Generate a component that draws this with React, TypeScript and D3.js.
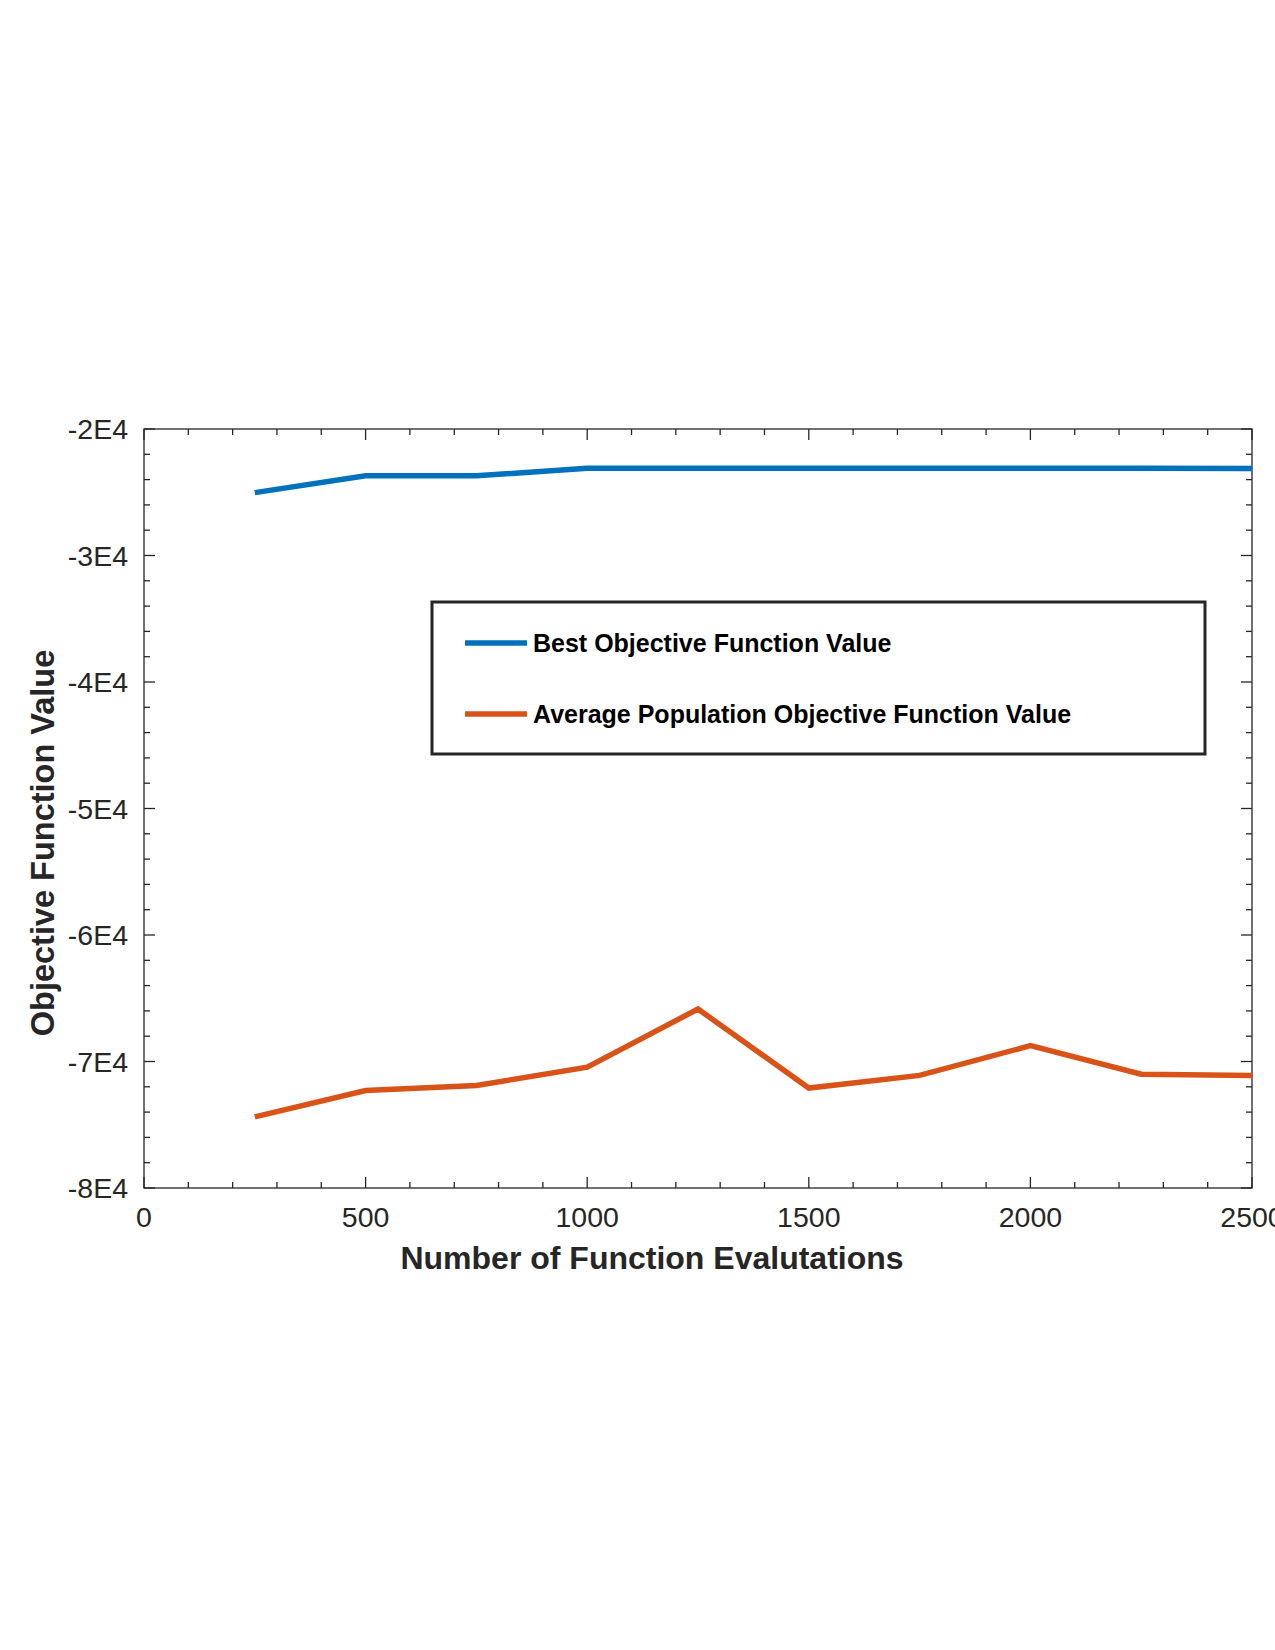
import * as d3 from "d3"

const evaluations = [250, 500, 750, 1000, 1250, 1500, 1750, 2000, 2250, 2500]
const bestValues = [-25030, -23690, -23700, -23100, -23100, -23100, -23100, -23100, -23100, -23120]
const avgValues = [-74380, -72300, -71900, -70450, -65850, -72100, -71100, -68750, -71000, -71100]

const xTicks = [0, 500, 1000, 1500, 2000, 2500]
const yTicks = [-80000, -70000, -60000, -50000, -40000, -30000, -20000]
const yTickLabels = ["-8E4", "-7E4", "-6E4", "-5E4", "-4E4", "-3E4", "-2E4"]
const seriesNames = ["Best Objective Function Value", "Average Population Objective Function Value"]
const seriesColors = ["#0072BD", "#D95319"]

const width = 1275
const height = 1650
const margin = { left: 144, right: 23, top: 429, bottom: 462 }
const axisColor = "#262626"
const font = "'Liberation Sans', Arial, Helvetica, sans-serif"

export default function App() {
  const innerW = width - margin.left - margin.right
  const innerH = height - margin.top - margin.bottom

  const x = d3.scaleLinear().domain([0, 2500]).range([0, innerW])
  const y = d3.scaleLinear().domain([-80000, -20000]).range([innerH, 0])

  const xMinor = d3.range(0, 2501, 100).filter(v => v % 500 !== 0)
  const yMinor = d3.range(-80000, -19999, 2000).filter(v => v % 10000 !== 0)

  const line = d3.line<number>()
    .x((_, i) => x(evaluations[i]))
    .y(d => y(d))

  const major = 11
  const minor = 6

  return (
    <svg width={width} height={height} style={{ position: "absolute", left: 0, top: 0, background: "#fff" }}>
      <g transform={`translate(${margin.left},${margin.top})`}>
        <defs>
          <clipPath id="plot-clip">
            <rect x={0} y={0} width={innerW} height={innerH} />
          </clipPath>
        </defs>

        {/* box */}
        <rect x={0} y={0} width={innerW} height={innerH} fill="none" stroke={axisColor} strokeWidth={1.3} />

        {/* x ticks, bottom and top */}
        {xTicks.map(t => (
          <g key={"xt" + t}>
            <line x1={x(t)} x2={x(t)} y1={innerH} y2={innerH - major} stroke={axisColor} strokeWidth={1.3} />
            <line x1={x(t)} x2={x(t)} y1={0} y2={major} stroke={axisColor} strokeWidth={1.3} />
            <text x={x(t)} y={innerH + 39} textAnchor="middle" fontFamily={font} fontSize={28.5} fill={axisColor}>
              {t}
            </text>
          </g>
        ))}
        {xMinor.map(t => (
          <g key={"xm" + t}>
            <line x1={x(t)} x2={x(t)} y1={innerH} y2={innerH - minor} stroke={axisColor} strokeWidth={1.3} />
            <line x1={x(t)} x2={x(t)} y1={0} y2={minor} stroke={axisColor} strokeWidth={1.3} />
          </g>
        ))}

        {/* y ticks, left and right */}
        {yTicks.map((t, i) => (
          <g key={"yt" + t}>
            <line x1={0} x2={major} y1={y(t)} y2={y(t)} stroke={axisColor} strokeWidth={1.3} />
            <line x1={innerW} x2={innerW - major} y1={y(t)} y2={y(t)} stroke={axisColor} strokeWidth={1.3} />
            <text x={-16} y={y(t) + 10} textAnchor="end" fontFamily={font} fontSize={28.5} fill={axisColor}>
              {yTickLabels[i]}
            </text>
          </g>
        ))}
        {yMinor.map(t => (
          <g key={"ym" + t}>
            <line x1={0} x2={minor} y1={y(t)} y2={y(t)} stroke={axisColor} strokeWidth={1.3} />
            <line x1={innerW} x2={innerW - minor} y1={y(t)} y2={y(t)} stroke={axisColor} strokeWidth={1.3} />
          </g>
        ))}

        {/* series */}
        <g clipPath="url(#plot-clip)">
          <path d={line(bestValues) ?? ""} fill="none" stroke={seriesColors[0]} strokeWidth={5.5} />
          <path d={line(avgValues) ?? ""} fill="none" stroke={seriesColors[1]} strokeWidth={5.5} />
        </g>

        {/* axis titles */}
        <text
          x={innerW / 2 - 46}
          y={innerH + 81}
          textAnchor="middle"
          fontFamily={font}
          fontSize={32}
          fontWeight="bold"
          fill={axisColor}
        >
          Number of Function Evalutations
        </text>
        <text
          transform={`translate(${54 - margin.left},${843 - margin.top}) rotate(-90)`}
          textAnchor="middle"
          fontFamily={font}
          fontSize={32.5}
          fontWeight="bold"
          fill={axisColor}
        >
          Objective Function Value
        </text>
      </g>

      {/* legend */}
      <g transform="translate(432,602)">
        <rect x={0} y={0} width={773} height={152} fill="#fff" stroke={axisColor} strokeWidth={3} />
        {seriesNames.map((name, i) => (
          <g key={name} transform={`translate(0,${41 + i * 71})`}>
            <line x1={33} x2={95} y1={0} y2={0} stroke={seriesColors[i]} strokeWidth={5.5} />
            <text x={101} y={9} fontFamily={font} fontSize={25} fontWeight="bold" fill="#000">
              {name}
            </text>
          </g>
        ))}
      </g>
    </svg>
  )
}
